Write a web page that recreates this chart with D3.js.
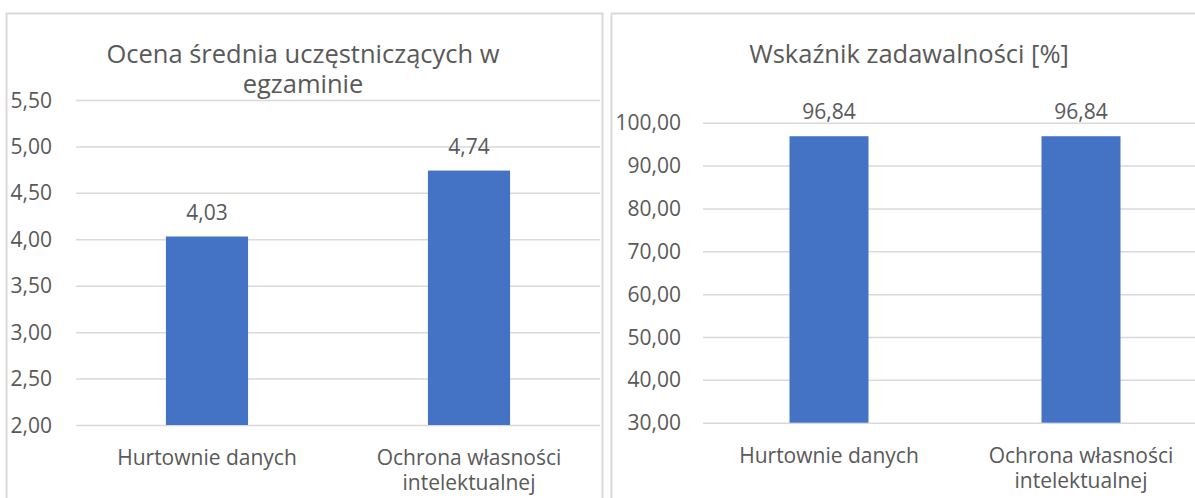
<!DOCTYPE html>
<html>
<head>
<meta charset="utf-8">
<script src="https://cdn.jsdelivr.net/npm/d3@7"></script>
<style>
  body { margin: 0; background: #fff; }
  svg text { font-family: "Open Sans", sans-serif; fill: #595959; }
</style>
</head>
<body>
<div id="chart"></div>
<script>
// categories (same for both charts), wrapped like in the original
const categories = ["Hurtownie danych", "Ochrona własności intelektualnej"];
const categoryLines = [["Hurtownie danych"], ["Ochrona własności", "intelektualnej"]];

// chart 1 - average grade
const title1 = ["Ocena średnia uczęstniczących w", "egzaminie"];
const values1 = [4.03, 4.74];
const ticks1 = [2.0, 2.5, 3.0, 3.5, 4.0, 4.5, 5.0, 5.5];

// chart 2 - satisfaction index
const title2 = ["Wskaźnik zadawalności [%]"];
const values2 = [96.84, 96.84];
const ticks2 = [30, 40, 50, 60, 70, 80, 90, 100];

const barColor = "#4472C4";
const gridColor = "#d9d9d9";
const fmt = v => d3.format(".2f")(v).replace(".", ",");

const svg = d3.select("#chart").append("svg")
    .attr("width", 1195)
    .attr("height", 498);

// frames
svg.append("rect")
    .attr("x", 6.5).attr("y", 13.5)
    .attr("width", 596).attr("height", 520)
    .attr("fill", "none").attr("stroke", gridColor).attr("stroke-width", 2);
svg.append("rect")
    .attr("x", 611.5).attr("y", 13.5)
    .attr("width", 620).attr("height", 520)
    .attr("fill", "none").attr("stroke", gridColor).attr("stroke-width", 2);

function drawChart(opt) {
    const g = svg.append("g");

    let x = d3.scaleBand()
        .domain(categories)
        .range(opt.xRange);
    let y = d3.scaleLinear()
        .domain([opt.ticks[0], opt.ticks[opt.ticks.length - 1]])
        .range(opt.yRange);

    // gridlines
    g.selectAll(".grid")
        .data(opt.ticks)
        .enter().append("line")
        .attr("x1", opt.xRange[0]).attr("x2", opt.xRange[1])
        .attr("y1", d => y(d) + 0.5).attr("y2", d => y(d) + 0.5)
        .attr("stroke", gridColor).attr("stroke-width", 1.5);

    // y tick labels
    g.selectAll(".ytick")
        .data(opt.ticks)
        .enter().append("text")
        .attr("x", opt.labelX)
        .attr("y", d => y(d))
        .attr("dy", "0.36em")
        .attr("text-anchor", "end")
        .style("font-size", "21px")
        .text(d => fmt(d));

    // bars
    const bw = x.bandwidth() / 3.19;
    g.selectAll(".bar")
        .data(opt.values)
        .enter().append("rect")
        .attr("x", (d, i) => x(categories[i]) + (x.bandwidth() - bw) / 2)
        .attr("y", d => y(d))
        .attr("width", bw)
        .attr("height", d => y(opt.ticks[0]) - y(d))
        .attr("fill", barColor);

    // value labels
    g.selectAll(".val")
        .data(opt.values)
        .enter().append("text")
        .attr("x", (d, i) => x(categories[i]) + x.bandwidth() / 2)
        .attr("y", d => y(d) - 17)
        .attr("text-anchor", "middle")
        .style("font-size", "21px")
        .text(d => fmt(d));

    // category labels
    categoryLines.forEach((lines, i) => {
        let t = g.append("text")
            .attr("text-anchor", "middle")
            .style("font-size", "21px");
        lines.forEach((l, j) => {
            t.append("tspan")
                .attr("x", x(categories[i]) + x.bandwidth() / 2)
                .attr("y", opt.yRange[0] + 40 + j * 25)
                .text(l);
        });
    });

    // title, one text per line
    opt.title.forEach((l, j) => {
        g.append("text")
            .attr("text-anchor", "middle")
            .attr("x", opt.titleX)
            .attr("y", 63 + j * 30)
            .style("font-size", "25.5px")
            .text(l);
    });
}

drawChart({
    values: values1, ticks: ticks1, title: title1,
    xRange: [76, 600], yRange: [425, 100],
    labelX: 52, titleX: 303
});
drawChart({
    values: values2, ticks: ticks2, title: title2,
    xRange: [703, 1207], yRange: [422.7, 122.7],
    labelX: 681, titleX: 909
});
</script>
</body>
</html>
